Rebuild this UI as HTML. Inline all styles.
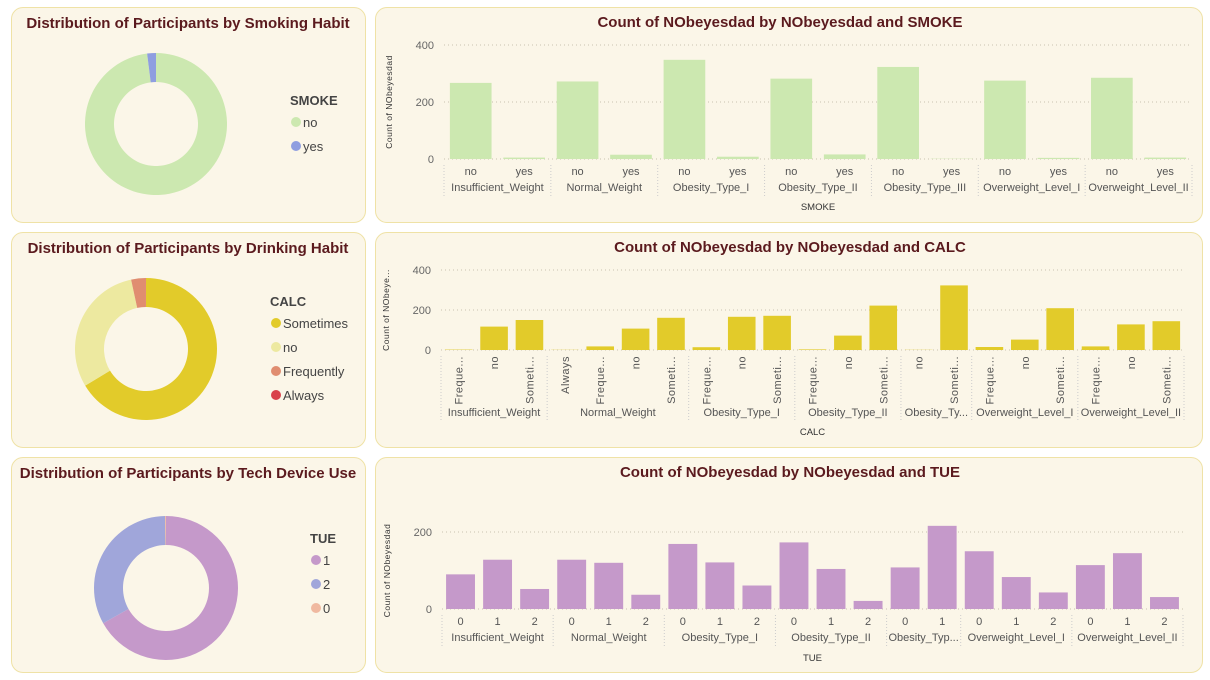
<!DOCTYPE html>
<html><head><meta charset="utf-8">
<style>
body{margin:0;width:1210px;height:680px;background:#fff;font-family:"Liberation Sans",sans-serif;position:relative;overflow:hidden}
.panel{position:absolute;background:#fbf6e8;border:1px solid #efe2a6;border-radius:12px;box-sizing:border-box}
svg{position:absolute;left:0;top:0}
</style></head><body>
<div class="panel" style="left:11px;top:7px;width:355px;height:216px"></div>
<div class="panel" style="left:11px;top:232px;width:355px;height:216px"></div>
<div class="panel" style="left:11px;top:457px;width:355px;height:216px"></div>
<div class="panel" style="left:375px;top:7px;width:828px;height:216px"></div>
<div class="panel" style="left:375px;top:232px;width:828px;height:216px"></div>
<div class="panel" style="left:375px;top:457px;width:828px;height:216px"></div>
<svg id="s" width="1210" height="680"></svg>
<script>
const groups=["Insufficient_Weight","Normal_Weight","Obesity_Type_I","Obesity_Type_II","Obesity_Type_III","Overweight_Level_I","Overweight_Level_II"];
const groupLabelsShort=["Insufficient_Weight","Normal_Weight","Obesity_Type_I","Obesity_Type_II","Obesity_Ty...","Overweight_Level_I","Overweight_Level_II"];
const smokeCats=[["no","yes"],["no","yes"],["no","yes"],["no","yes"],["no","yes"],["no","yes"],["no","yes"]];
const smokeVals=[[267,5],[272,15],[348,8],[282,16],[323,1],[275,4],[285,5]];
const calcCats=[["Freque...","no","Someti..."],["Always","Freque...","no","Someti..."],["Freque...","no","Someti..."],["Freque...","no","Someti..."],["no","Someti..."],["Freque...","no","Someti..."],["Freque...","no","Someti..."]];
const calcVals=[[2,117,150],[1,18,107,161],[14,166,171],[3,72,222],[1,323],[15,52,209],[18,128,144]];
const tueCats=[["0","1","2"],["0","1","2"],["0","1","2"],["0","1","2"],["0","1"],["0","1","2"],["0","1","2"]];
const tueVals=[[90,128,52],[128,120,37],[169,121,61],[173,104,21],[108,216],[150,83,43],[114,145,31]];
const tueGroupLabels=["Insufficient_Weight","Normal_Weight","Obesity_Type_I","Obesity_Type_II","Obesity_Typ...","Overweight_Level_I","Overweight_Level_II"];
const smokeTicks=[0,200,400], calcTicks=[0,200,400], tueTicks=[0,200];
const smokePieLabels=["no","yes"], smokePieVals=[98,2];
const calcPieLabels=["Sometimes","no","Frequently","Always"], calcPieVals=[1401,639,70,1];
const tuePieLabels=["1","2","0"], tuePieVals=[67,33,0.2];

const S=document.getElementById('s');const NS="http://www.w3.org/2000/svg";
function el(t,a,txt){const e=document.createElementNS(NS,t);for(const k in a)e.setAttribute(k,a[k]);if(txt!==undefined)e.textContent=txt;S.appendChild(e);return e;}
const TITLE="#5b1a1e";
function title(x,y,t){const e=el('text',{x:x,y:y,'text-anchor':'middle','font-size':15,'font-weight':'bold',fill:TITLE},t);

}

function bar(o){
 title(o.tx,o.ty,o.title);
 const n=o.cats.reduce((a,c)=>a+c.length,0);const slot=(o.x1-o.x0)/n;
 const ys=v=>o.y0-v*(o.y0-o.yTop)/o.tmax;
 o.ticks.forEach(t=>{const y=ys(t);
  const g=el('line',{x1:o.x0,x2:o.x1,y1:y,y2:y,stroke:'#c9c3b0','stroke-dasharray':'1,3'});
  
  
  const l=el('text',{x:o.x0-10,y:y+4,'text-anchor':'end','font-size':11,fill:'#666'},t);
  
  });
 const yt=el('text',{transform:`translate(${o.x0-52},${(o.y0+o.yTop)/2}) rotate(-90)`,'text-anchor':'middle','font-size':8.5,fill:'#333','letter-spacing':'0.5'},o.ylab);
 
 
 let i=0;
 o.cats.forEach((cs,gi)=>{const gx0=o.x0+i*slot;
  const sep=el('line',{x1:gx0,x2:gx0,y1:o.y0+6,y2:o.sepBot,stroke:'#ccc','stroke-dasharray':'1,2'});
  
  
  cs.forEach((c,ci)=>{const v=o.vals[gi][ci];const bx=o.x0+i*slot+slot*0.11;const y=ys(v);
   const r=el('rect',{x:bx,y:y,width:slot*0.78,height:o.y0-y,fill:o.color});
   
   
   const cx=o.x0+(i+0.5)*slot;
   let t;
   if(o.rot){t=el('text',{transform:`translate(${cx+4},${o.y0+6}) rotate(-90)`,'text-anchor':'end','font-size':11,fill:'#555','letter-spacing':'0.5'},c);}
   else t=el('text',{x:cx,y:o.y0+16,'text-anchor':'middle','font-size':11,fill:'#555'},c);
   
   
   i++;});
  const gcx=gx0+cs.length*slot/2;
  const gl=el('text',{x:gcx,y:o.gy,'text-anchor':'middle','font-size':11,fill:'#555'},o.glabels[gi]);
  
  
 });
 const last=el('line',{x1:o.x1,x2:o.x1,y1:o.y0+6,y2:o.sepBot,stroke:'#ccc','stroke-dasharray':'1,2'});
 
 
 const xt=el('text',{x:(o.x0+o.x1)/2,y:o.xty,'text-anchor':'middle','font-size':9.5,fill:'#333'},o.xlab);
 
 
}
bar({title:"Count of NObeyesdad by NObeyesdad and SMOKE",tx:780,ty:27,x0:444,x1:1192,y0:159,yTop:45,tmax:400,ticks:smokeTicks,cats:smokeCats,vals:smokeVals,color:'#cce8b0',ylab:'Count of NObeyesdad',glabels:groups,gy:191,sepBot:196,xlab:'SMOKE',xty:210,rot:false});
bar({title:"Count of NObeyesdad by NObeyesdad and CALC",tx:790,ty:252,x0:441,x1:1184,y0:350,yTop:270,tmax:400,ticks:calcTicks,cats:calcCats,vals:calcVals,color:'#e2cb2a',ylab:'Count of NObeye...',glabels:groupLabelsShort,gy:416,sepBot:421,xlab:'CALC',xty:435,rot:true});
bar({title:"Count of NObeyesdad by NObeyesdad and TUE",tx:790,ty:477,x0:442,x1:1183,y0:609,yTop:532,tmax:200,ticks:tueTicks,cats:tueCats,vals:tueVals,color:'#c599ca',ylab:'Count of NObeyesdad',glabels:tueGroupLabels,gy:641,sepBot:646,xlab:'TUE',xty:661,rot:false});

function donut(o){
 title(o.tx,o.ty,o.title);
 const tot=o.vals.reduce((a,b)=>a+b,0);let a=0;
 o.vals.forEach((v,i)=>{const a0=a/tot*2*Math.PI,a1=(a+v)/tot*2*Math.PI;a+=v;
  const P=(r,t)=>[o.cx+r*Math.sin(t),o.cy-r*Math.cos(t)];
  const [x0,y0]=P(o.r,a0),[x1,y1]=P(o.r,a1),[x2,y2]=P(o.ri,a1),[x3,y3]=P(o.ri,a0);const lg=a1-a0>Math.PI?1:0;
  const p=el('path',{d:`M${x0},${y0}A${o.r},${o.r} 0 ${lg} 1 ${x1},${y1}L${x2},${y2}A${o.ri},${o.ri} 0 ${lg} 0 ${x3},${y3}Z`,fill:o.colors[i]});
  
  });
 const lt=el('text',{x:o.lx,y:o.ly,'font-size':13,'font-weight':'bold',fill:'#444'},o.legTitle);
 
 
 o.labels.forEach((l,i)=>{const y=o.ly+21+i*o.ls;
  const c=el('circle',{cx:o.lx+6,cy:y-4,r:5,fill:o.colors[i]});
  
  
  const t=el('text',{x:o.lx+13,y:y+1,'font-size':13,fill:'#444'},l);
  
  });
}
donut({title:"Distribution of Participants by Smoking Habit",tx:188,ty:28,cx:156,cy:124,r:71,ri:42,vals:smokePieVals,labels:smokePieLabels,colors:['#cce8b0','#8f9ee0'],legTitle:'SMOKE',lx:290,ly:105,ls:24});
donut({title:"Distribution of Participants by Drinking Habit",tx:188,ty:253,cx:146,cy:349,r:71,ri:42,vals:calcPieVals,labels:calcPieLabels,colors:['#e2cb2a','#ede9a0','#e08d70','#d9414a'],legTitle:'CALC',lx:270,ly:306,ls:24});
donut({title:"Distribution of Participants by Tech Device Use",tx:188,ty:478,cx:166,cy:588,r:72,ri:43,vals:tuePieVals,labels:tuePieLabels,colors:['#c599ca','#a0a6da','#f0b9a0'],legTitle:'TUE',lx:310,ly:543,ls:24});
</script>
</body></html>
